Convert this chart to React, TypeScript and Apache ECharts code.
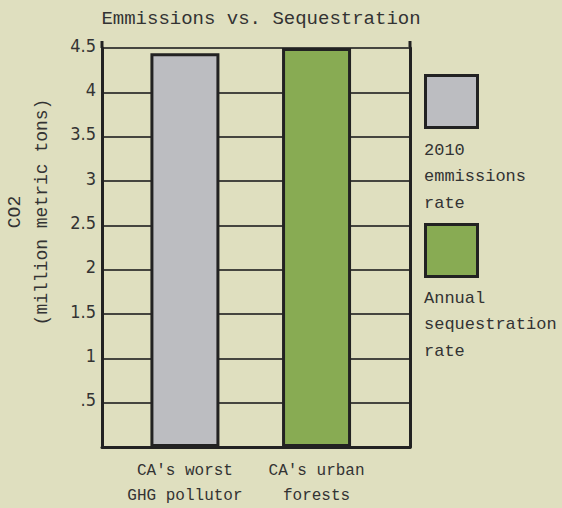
import React, { useEffect, useRef } from "react";
import * as echarts from "echarts";

const categories = ["CA's worst\nGHG pollutor", "CA's urban\nforests"];
const categoryPositions = [1, 2];
const emissionsValues = [4.44];
const sequestrationValues = [4.5];
const seriesNames = ["2010\nemmissions\nrate", "Annual\nsequestration\nrate"];

const BG = "#dfdfbf";
const GRAY = "#bcbdc1";
const GREEN = "#88ab53";
const DARK = "#222222";
const MONO = "'Liberation Mono', 'DejaVu Sans Mono', monospace";
const HAND = "'Liberation Sans Narrow', 'DejaVu Sans Condensed', 'DejaVu Sans', sans-serif";

export default function App() {
  const ref = useRef<HTMLDivElement>(null);
  useEffect(() => {
    document.body.style.margin = "0";
    const chart = echarts.init(ref.current!, null, { renderer: "svg" });
    const fmtTick = (v: number) => {
      if (v === 0) return "";
      const s = String(v);
      return s.startsWith("0.") ? s.slice(1) : s;
    };
    chart.setOption({
      animation: false,
      backgroundColor: BG,
      title: {
        text: "Emmissions vs. Sequestration",
        left: 256,
        top: 4,
        textAlign: "center",
        textStyle: { fontFamily: MONO, fontSize: 19, fontWeight: "normal", color: "#333" },
      },
      grid: { left: 102, top: 48, right: 152, bottom: 56, containLabel: false },
      xAxis: {
        type: "value",
        min: 0.37,
        max: 2.71,
        splitLine: { show: false },
        axisTick: { show: false },
        axisLine: { show: true, lineStyle: { color: DARK, width: 3 } },
        axisLabel: {
          customValues: categoryPositions,
          formatter: (v: number) => categories[categoryPositions.indexOf(v)] ?? "",
          fontFamily: MONO,
          fontSize: 16,
          lineHeight: 25,
          color: "#333",
          margin: 11,
        },
      },
      yAxis: [
        {
          type: "value",
          min: 0,
          max: 4.5,
          interval: 0.5,
          axisLine: { show: true, lineStyle: { color: DARK, width: 3 } },
          axisTick: { show: false },
          splitLine: { show: true, lineStyle: { color: "#45453f", width: 2 } },
          axisLabel: {
            formatter: fmtTick,
            fontFamily: HAND,
            fontSize: 18,
            color: "#333",
            margin: 6,
            verticalAlign: "bottom",
            padding: [0, 0, -6, 0],
          },
        },
        {
          type: "value",
          min: 0,
          max: 4.5,
          interval: 0.5,
          position: "right",
          axisLine: { show: true, lineStyle: { color: DARK, width: 3 } },
          axisTick: { show: false },
          splitLine: { show: false },
          axisLabel: { show: false },
        },
      ],
      series: [
        {
          name: seriesNames[0],
          type: "bar",
          barWidth: 69,
          barGap: "-100%",
          data: emissionsValues.map((v, i) => [categoryPositions[i], v]),
          itemStyle: { color: GRAY, borderColor: DARK, borderWidth: 3 },
        },
        {
          name: seriesNames[1],
          type: "bar",
          barWidth: 69,
          barGap: "-100%",
          data: sequestrationValues.map((v, i) => [categoryPositions[i + 1], v]),
          itemStyle: { color: GREEN, borderColor: DARK, borderWidth: 3 },
        },
      ],
      graphic: [
        { type: "line", shape: { x1: 102, y1: 41, x2: 102, y2: 48 }, style: { stroke: DARK, lineWidth: 3 } },
        { type: "line", shape: { x1: 410, y1: 41, x2: 410, y2: 48 }, style: { stroke: DARK, lineWidth: 3 } },
        {
          type: "text",
          x: 28,
          y: 212,
          rotation: Math.PI / 2,
          style: {
            text: "CO2\n(million metric tons)",
            fontFamily: MONO,
            fontSize: 18,
            lineHeight: 27,
            fill: "#333",
            align: "center",
            verticalAlign: "middle",
          },
        },
        { type: "rect", shape: { x: 425.5, y: 75.5, width: 52, height: 52 }, style: { fill: GRAY, stroke: DARK, lineWidth: 3 } },
        {
          type: "text",
          x: 424,
          y: 137,
          style: { text: seriesNames[0], fontFamily: MONO, fontSize: 17, lineHeight: 26.5, fill: "#333" },
        },
        { type: "rect", shape: { x: 425.5, y: 224.5, width: 52, height: 52 }, style: { fill: GREEN, stroke: DARK, lineWidth: 3 } },
        {
          type: "text",
          x: 424,
          y: 285,
          style: { text: seriesNames[1], fontFamily: MONO, fontSize: 17, lineHeight: 26.5, fill: "#333" },
        },
      ],
    });
    return () => chart.dispose();
  }, []);
  return <div ref={ref} style={{ width: 562, height: 508 }} />;
}
